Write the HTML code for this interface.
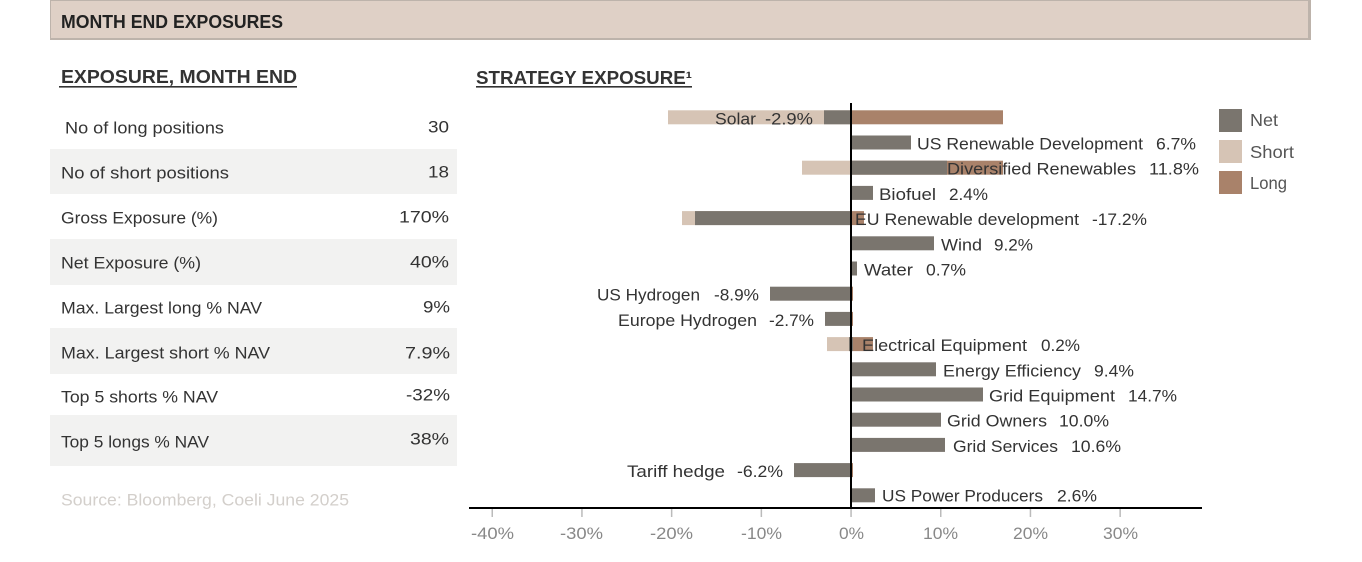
<!DOCTYPE html>
<html>
<head>
<meta charset="utf-8">
<style>
html,body{margin:0;padding:0;background:#fff;}
svg{display:block;}
text{font-family:"Liberation Sans",Arial,sans-serif;}
.t{font-size:16.5px;fill:#333;}
.c{font-size:17px;fill:#333;}
.ax{font-size:16.5px;fill:#888;}
.lg{font-size:17.5px;fill:#555;}
</style>
</head>
<body>
<svg width="1362" height="562" viewBox="0 0 1362 562" xmlns="http://www.w3.org/2000/svg">
<!-- header -->
<rect x="50" y="0" width="1261" height="40" fill="#bdb3ab"/>
<rect x="51" y="1" width="1257" height="37" fill="#dfd0c6"/>
<text x="61" y="28" font-size="18" font-weight="bold" fill="#222" textLength="222" lengthAdjust="spacingAndGlyphs">MONTH END EXPOSURES</text>

<!-- section titles -->
<text x="61" y="83" font-size="18" font-weight="bold" fill="#333" textLength="236" lengthAdjust="spacingAndGlyphs">EXPOSURE, MONTH END</text>
<rect x="59" y="86" width="238" height="1.6" fill="#333"/>
<text x="476" y="84" font-size="18" font-weight="bold" fill="#333" textLength="216" lengthAdjust="spacingAndGlyphs">STRATEGY EXPOSURE¹</text>
<rect x="476" y="86" width="216" height="1.6" fill="#333"/>

<!-- table bands -->
<rect x="50" y="149" width="407" height="45" fill="#f2f2f1"/>
<rect x="50" y="239" width="407" height="46" fill="#f2f2f1"/>
<rect x="50" y="328" width="407" height="46" fill="#f2f2f1"/>
<rect x="50" y="415" width="407" height="51" fill="#f2f2f1"/>

<!-- table labels -->
<text class="t" x="65" y="133.5" textLength="159" lengthAdjust="spacingAndGlyphs">No of long positions</text>
<text class="t" x="61" y="178.5" textLength="168" lengthAdjust="spacingAndGlyphs">No of short positions</text>
<text class="t" x="61" y="223.5" textLength="157" lengthAdjust="spacingAndGlyphs">Gross Exposure (%)</text>
<text class="t" x="61" y="268.5" textLength="140" lengthAdjust="spacingAndGlyphs">Net Exposure (%)</text>
<text class="t" x="61" y="313.5" textLength="201" lengthAdjust="spacingAndGlyphs">Max. Largest long % NAV</text>
<text class="t" x="61" y="358.5" textLength="209" lengthAdjust="spacingAndGlyphs">Max. Largest short % NAV</text>
<text class="t" x="61" y="402.5" textLength="157" lengthAdjust="spacingAndGlyphs">Top 5 shorts % NAV</text>
<text class="t" x="61" y="447.5" textLength="148" lengthAdjust="spacingAndGlyphs">Top 5 longs % NAV</text>

<!-- table values -->
<text class="t" x="428" y="132.5" textLength="21" lengthAdjust="spacingAndGlyphs">30</text>
<text class="t" x="428" y="177.5" textLength="21" lengthAdjust="spacingAndGlyphs">18</text>
<text class="t" x="399" y="222.5" textLength="50" lengthAdjust="spacingAndGlyphs">170%</text>
<text class="t" x="410" y="267.5" textLength="39" lengthAdjust="spacingAndGlyphs">40%</text>
<text class="t" x="423" y="312.5" textLength="27" lengthAdjust="spacingAndGlyphs">9%</text>
<text class="t" x="405" y="358.5" textLength="45" lengthAdjust="spacingAndGlyphs">7.9%</text>
<text class="t" x="406" y="400.5" textLength="44" lengthAdjust="spacingAndGlyphs">-32%</text>
<text class="t" x="410" y="444.5" textLength="39" lengthAdjust="spacingAndGlyphs">38%</text>

<text x="61" y="505.5" font-size="16.5" fill="#d3cfcb" textLength="288" lengthAdjust="spacingAndGlyphs">Source: Bloomberg, Coeli June 2025</text>

<!-- bars -->
<g>
<rect x="668" y="110.3" width="183" height="14" fill="#d6c4b5"/>
<rect x="851" y="110.3" width="152" height="14" fill="#a9826a"/>
<rect x="824" y="110.3" width="27" height="14" fill="#7a756e"/>
<rect x="851" y="135.5" width="60" height="14" fill="#7a756e"/>
<rect x="802" y="160.7" width="49" height="14" fill="#d6c4b5"/>
<rect x="851" y="160.7" width="152" height="14" fill="#a9826a"/>
<rect x="851" y="160.7" width="96" height="14" fill="#7a756e"/>
<rect x="851" y="185.9" width="22" height="14" fill="#7a756e"/>
<rect x="682" y="211.1" width="169" height="14" fill="#d6c4b5"/>
<rect x="695" y="211.1" width="156" height="14" fill="#7a756e"/>
<rect x="851" y="211.1" width="13" height="14" fill="#a9826a"/>
<rect x="851" y="236.3" width="83" height="14" fill="#7a756e"/>
<rect x="851" y="261.5" width="6" height="14" fill="#7a756e"/>
<rect x="770" y="286.7" width="81" height="14" fill="#7a756e"/>
<rect x="851" y="286.7" width="2" height="14" fill="#a9826a"/>
<rect x="825" y="311.9" width="26" height="14" fill="#7a756e"/>
<rect x="851" y="311.9" width="2" height="14" fill="#a9826a"/>
<rect x="827" y="337.1" width="24" height="14" fill="#d6c4b5"/>
<rect x="851" y="337.1" width="22" height="14" fill="#a9826a"/>
<rect x="849" y="337.1" width="4" height="14" fill="#7a756e"/>
<rect x="851" y="362.3" width="85" height="14" fill="#7a756e"/>
<rect x="851" y="387.5" width="132" height="14" fill="#7a756e"/>
<rect x="851" y="412.7" width="90" height="14" fill="#7a756e"/>
<rect x="851" y="437.9" width="94" height="14" fill="#7a756e"/>
<rect x="794" y="463.1" width="57" height="14" fill="#7a756e"/>
<rect x="851" y="463.1" width="2" height="14" fill="#a9826a"/>
<rect x="851" y="488.3" width="24" height="14" fill="#7a756e"/>
</g>

<!-- zero line -->
<rect x="850" y="103" width="2" height="406" fill="#000"/>
<!-- x axis -->
<rect x="469" y="507" width="733" height="2" fill="#000"/>
<g fill="#bbb">
<rect x="491.5" y="509" width="1.5" height="8"/>
<rect x="581.2" y="509" width="1.5" height="8"/>
<rect x="670.9" y="509" width="1.5" height="8"/>
<rect x="760.6" y="509" width="1.5" height="8"/>
<rect x="850.3" y="509" width="1.5" height="8"/>
<rect x="940" y="509" width="1.5" height="8"/>
<rect x="1029.7" y="509" width="1.5" height="8"/>
<rect x="1119.4" y="509" width="1.5" height="8"/>
</g>
<text class="ax" x="471" y="539" textLength="43" lengthAdjust="spacingAndGlyphs">-40%</text>
<text class="ax" x="560" y="539" textLength="43" lengthAdjust="spacingAndGlyphs">-30%</text>
<text class="ax" x="650" y="539" textLength="43" lengthAdjust="spacingAndGlyphs">-20%</text>
<text class="ax" x="741" y="539" textLength="41" lengthAdjust="spacingAndGlyphs">-10%</text>
<text class="ax" x="839" y="539" textLength="25" lengthAdjust="spacingAndGlyphs">0%</text>
<text class="ax" x="923" y="539" textLength="35" lengthAdjust="spacingAndGlyphs">10%</text>
<text class="ax" x="1013" y="539" textLength="35" lengthAdjust="spacingAndGlyphs">20%</text>
<text class="ax" x="1103" y="539" textLength="35" lengthAdjust="spacingAndGlyphs">30%</text>

<!-- bar labels -->
<g>
<text class="c" x="715" y="124.3" textLength="41" lengthAdjust="spacingAndGlyphs">Solar</text>
<text class="c" x="765" y="124.3" textLength="48" lengthAdjust="spacingAndGlyphs">-2.9%</text>

<text class="c" x="917" y="149.5" textLength="226" lengthAdjust="spacingAndGlyphs">US Renewable Development</text>
<text class="c" x="1156" y="149.5" textLength="40" lengthAdjust="spacingAndGlyphs">6.7%</text>

<text class="c" x="947" y="174.7" textLength="189" lengthAdjust="spacingAndGlyphs">Diversified Renewables</text>
<text class="c" x="1149" y="174.7" textLength="50" lengthAdjust="spacingAndGlyphs">11.8%</text>

<text class="c" x="879" y="199.9" textLength="57" lengthAdjust="spacingAndGlyphs">Biofuel</text>
<text class="c" x="949" y="199.9" textLength="39" lengthAdjust="spacingAndGlyphs">2.4%</text>

<text class="c" x="855" y="225.1" textLength="224" lengthAdjust="spacingAndGlyphs">EU Renewable development</text>
<text class="c" x="1092" y="225.1" textLength="55" lengthAdjust="spacingAndGlyphs">-17.2%</text>

<text class="c" x="941" y="250.3" textLength="41" lengthAdjust="spacingAndGlyphs">Wind</text>
<text class="c" x="994" y="250.3" textLength="39" lengthAdjust="spacingAndGlyphs">9.2%</text>

<text class="c" x="864" y="275.5" textLength="49" lengthAdjust="spacingAndGlyphs">Water</text>
<text class="c" x="926" y="275.5" textLength="40" lengthAdjust="spacingAndGlyphs">0.7%</text>

<text class="c" x="597" y="300.7" textLength="103" lengthAdjust="spacingAndGlyphs">US Hydrogen</text>
<text class="c" x="714" y="300.7" textLength="45" lengthAdjust="spacingAndGlyphs">-8.9%</text>

<text class="c" x="618" y="325.9" textLength="139" lengthAdjust="spacingAndGlyphs">Europe Hydrogen</text>
<text class="c" x="769" y="325.9" textLength="45" lengthAdjust="spacingAndGlyphs">-2.7%</text>

<text class="c" x="862" y="351.1" textLength="165" lengthAdjust="spacingAndGlyphs">Electrical Equipment</text>
<text class="c" x="1041" y="351.1" textLength="39" lengthAdjust="spacingAndGlyphs">0.2%</text>

<text class="c" x="943" y="376.3" textLength="138" lengthAdjust="spacingAndGlyphs">Energy Efficiency</text>
<text class="c" x="1094" y="376.3" textLength="40" lengthAdjust="spacingAndGlyphs">9.4%</text>

<text class="c" x="989" y="401.5" textLength="126" lengthAdjust="spacingAndGlyphs">Grid Equipment</text>
<text class="c" x="1128" y="401.5" textLength="49" lengthAdjust="spacingAndGlyphs">14.7%</text>

<text class="c" x="947" y="426.7" textLength="100" lengthAdjust="spacingAndGlyphs">Grid Owners</text>
<text class="c" x="1059" y="426.7" textLength="50" lengthAdjust="spacingAndGlyphs">10.0%</text>

<text class="c" x="953" y="451.9" textLength="105" lengthAdjust="spacingAndGlyphs">Grid Services</text>
<text class="c" x="1071" y="451.9" textLength="50" lengthAdjust="spacingAndGlyphs">10.6%</text>

<text class="c" x="627" y="477.1" textLength="98" lengthAdjust="spacingAndGlyphs">Tariff hedge</text>
<text class="c" x="737" y="477.1" textLength="46" lengthAdjust="spacingAndGlyphs">-6.2%</text>

<text class="c" x="882" y="501.3" textLength="161" lengthAdjust="spacingAndGlyphs">US Power Producers</text>
<text class="c" x="1057" y="501.3" textLength="40" lengthAdjust="spacingAndGlyphs">2.6%</text>
</g>

<!-- legend -->
<rect x="1219" y="109" width="23" height="23" fill="#7a756e"/>
<rect x="1219" y="140" width="23" height="23" fill="#d6c4b5"/>
<rect x="1219" y="171" width="23" height="23" fill="#a9826a"/>
<text class="lg" x="1250" y="126" textLength="28" lengthAdjust="spacingAndGlyphs">Net</text>
<text class="lg" x="1250" y="158" textLength="44" lengthAdjust="spacingAndGlyphs">Short</text>
<text class="lg" x="1250" y="189" textLength="37" lengthAdjust="spacingAndGlyphs">Long</text>
</svg>
</body>
</html>
